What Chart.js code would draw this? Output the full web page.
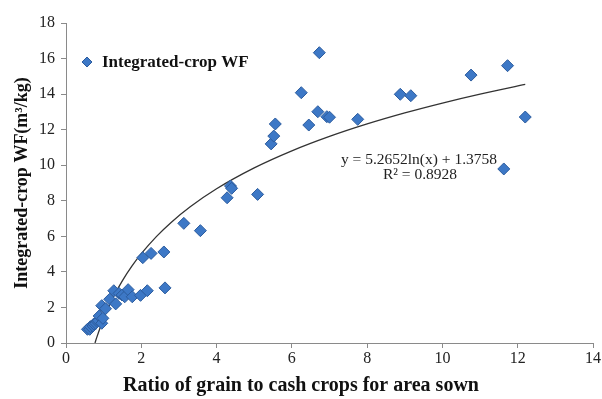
<!DOCTYPE html>
<html lang="en">
<head>
    <meta charset="UTF-8">
    <title>Integrated-crop WF vs grain to cash crop ratio</title>
    <script src="https://cdn.jsdelivr.net/npm/chart.js"></script>
    <style>
        * { margin: 0; padding: 0; box-sizing: border-box; }
        body { background: #fff; width: 602px; height: 399px; overflow: hidden; }
        #wrap { position: relative; width: 602px; height: 399px; }
    </style>
</head>
<body>
    <div id="wrap"><canvas id="wfChart" width="602" height="399"></canvas></div>

    <script>
        // Data
        const ratioX = [0.57, 0.63, 0.65, 0.72, 0.74, 0.79, 0.83, 0.86, 0.88, 0.95, 0.98,
                        0.95, 1.05, 1.16, 1.27, 1.32, 1.41, 1.49, 1.56, 1.65, 1.76, 1.98, 2.16, 2.63,
                        2.04, 2.26, 2.60, 3.13, 3.57, 4.28, 4.37, 4.40, 5.09,
                        5.45, 5.52, 5.56, 6.25, 6.45, 6.69, 6.73, 6.93, 7.00, 7.75,
                        8.88, 9.16, 10.76, 11.73, 11.63, 12.20];
        const wfY = [0.77, 0.77, 0.92, 0.96, 1.07, 1.11, 1.20, 1.25, 1.52, 1.11, 1.39,
                     2.10, 1.93, 2.46, 2.94, 2.20, 2.79, 2.70, 2.60, 3.00, 2.60, 2.68, 2.94, 3.10,
                     4.80, 5.04, 5.12, 6.73, 6.32, 8.17, 8.83, 8.70, 8.36,
                     11.20, 11.64, 12.32, 14.08, 12.26, 13.01, 16.33, 12.73, 12.70, 12.58,
                     13.99, 13.91, 15.07, 15.60, 9.79, 12.71];

        // Trendline printed on the chart: y = 5.2652 ln(x) + 1.3758
        const fitA = 5.2652;
        const fitB = 1.3758;
        const fitX = [0.77, 0.82, 0.9, 1, 1.15, 1.3, 1.5, 1.75, 2, 2.4, 2.8, 3.3, 4, 5, 6, 7, 8, 9, 10, 11, 12.2];

        const xTicks = [0, 2, 4, 6, 8, 10, 12, 14];
        const yTicks = [0, 2, 4, 6, 8, 10, 12, 14, 16, 18];

        const serif = "'Liberation Serif', 'Times New Roman', serif";
        const pointBlue = '#3d78c6';

        const scatterData = ratioX.map((x, i) => ({ x: x, y: wfY[i] }));
        const fitData = fitX.map(x => ({ x: x, y: fitA * Math.log(x) + fitB }));

        // Legend, equation and x title drawn on the canvas
        const annotations = {
            id: 'annotations',
            afterDraw(chart) {
                const ctx = chart.ctx;
                ctx.save();

                // legend
                ctx.fillStyle = pointBlue;
                ctx.strokeStyle = '#2c5c9e';
                ctx.lineWidth = 1;
                ctx.beginPath();
                ctx.moveTo(87, 57); ctx.lineTo(92, 62); ctx.lineTo(87, 67); ctx.lineTo(82, 62);
                ctx.closePath();
                ctx.fill(); ctx.stroke();
                ctx.fillStyle = '#111';
                ctx.font = 'bold 17px ' + serif;
                ctx.textAlign = 'left';
                ctx.textBaseline = 'middle';
                ctx.fillText('Integrated-crop WF', 102, 63);

                // equation
                ctx.font = '15.5px ' + serif;
                ctx.textAlign = 'center';
                ctx.fillStyle = '#222';
                ctx.fillText('y = 5.2652ln(x) + 1.3758', 419, 160);
                ctx.fillText('R\u00B2 = 0.8928', 420, 175);

                // x axis title
                ctx.font = 'bold 20px ' + serif;
                ctx.fillStyle = '#111';
                ctx.fillText('Ratio of grain to cash crops for area sown', 301, 386);
                ctx.restore();
            }
        };

        const ctx = document.getElementById('wfChart').getContext('2d');
        new Chart(ctx, {
            type: 'scatter',
            data: {
                datasets: [
                    {
                        label: 'Integrated-crop WF',
                        data: scatterData,
                        pointStyle: 'rectRot',
                        pointRadius: 6,
                        backgroundColor: pointBlue,
                        borderColor: '#2c5c9e',
                        borderWidth: 1,
                        order: 1
                    },
                    {
                        label: 'fit',
                        type: 'line',
                        data: fitData,
                        borderColor: '#333',
                        borderWidth: 1.3,
                        pointRadius: 0,
                        cubicInterpolationMode: 'monotone',
                        fill: false,
                        order: 2
                    }
                ]
            },
            options: {
                responsive: false,
                animation: false,
                layout: { autoPadding: false, padding: { top: 23, right: 7, left: 0, bottom: 0 } },
                plugins: { legend: { display: false }, tooltip: { enabled: false } },
                scales: {
                    x: {
                        type: 'linear',
                        min: 0, max: 14,
                        afterBuildTicks: s => { s.ticks = xTicks.map(v => ({ value: v })); },
                        afterFit: s => { s.height = 56; },
                        border: { color: '#8a8a8a', width: 1 },
                        grid: { drawOnChartArea: false, drawTicks: true, tickLength: 5, color: '#8a8a8a' },
                        ticks: { color: '#222', font: { family: serif, size: 16 }, padding: 1, maxRotation: 0 }
                    },
                    y: {
                        min: 0, max: 18,
                        afterBuildTicks: s => { s.ticks = yTicks.map(v => ({ value: v })); },
                        afterFit: s => { s.width = 66; },
                        border: { color: '#8a8a8a', width: 1 },
                        grid: { drawOnChartArea: false, drawTicks: true, tickLength: 5, color: '#8a8a8a' },
                        ticks: { color: '#222', font: { family: serif, size: 16 }, padding: 6 },
                        title: {
                            display: true,
                            text: 'Integrated-crop WF(m\u00B3/kg)',
                            color: '#111',
                            font: { family: serif, size: 18, weight: 'bold' },
                            padding: { top: 12, bottom: 0 }
                        }
                    }
                }
            },
            plugins: [annotations]
        });
    </script>
</body>
</html>
